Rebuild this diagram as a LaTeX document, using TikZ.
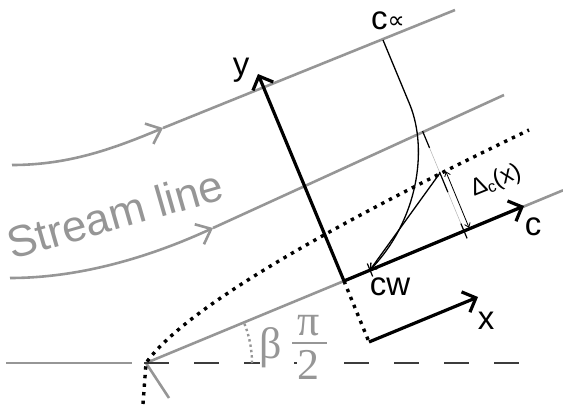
\documentclass[tikz,border=0pt]{standalone}
\usepackage{fontspec}
\setmainfont{Liberation Sans}
\newfontfamily\greekserif{Liberation Serif}
\newfontfamily\symbfont{DejaVu Sans}
\usetikzlibrary{arrows.meta, positioning, calc}
\definecolor{streamgray}{RGB}{150,150,150}
\definecolor{dashgray}{RGB}{60,60,60}

\begin{document}
\begin{tikzpicture}[
    x=1pt, y=-1pt,
    stream/.style={draw=streamgray, line width=2.6pt},
    flowtip/.style={-{Straight Barb[length=13pt,width=22pt]}},
    axis/.style={draw, line width=3.2pt, -{Straight Barb[length=11pt,width=22pt]}},
    bldotted/.style={draw, line width=3.4pt, dash pattern=on 3.4pt off 5.2pt},
    profile/.style={draw, line width=1.3pt},
    axislabel/.style={font=\fontsize{33}{36}\selectfont, inner sep=0pt},
    anglelabel/.style={font=\greekserif\fontsize{44}{48}\selectfont, text=streamgray, fill=white, inner sep=0pt}
]
\useasboundingbox (0,0) rectangle (563,406);

% key points
\coordinate (lead) at (146,363);
\coordinate (corner) at (344,281);
\coordinate (ytip) at (258,74);
\coordinate (ctip) at (524,206);
\coordinate (xorig) at (369,342);
\coordinate (xtip) at (478,297);
\coordinate (cinf) at (383,40);
\coordinate (bend) at (410,105);
\coordinate (cw) at (370,270);
\coordinate (apex) at (440,173);
\coordinate (foot) at (464,231);

% stream lines
\draw[stream, flowtip] (12,165) .. controls (70,165) and (115,148) .. (163,128) coordinate (arrA);
\draw[stream] (arrA) -- (455,10);
\draw[stream, flowtip] (10,278) .. controls (80,278) and (150,257) .. (213,228) coordinate (arrB);
\draw[stream] (arrB) -- (504,95);
\draw[stream] (6,363) -- (132,363);
\draw[stream] (lead) -- (563,190.3);
\draw[stream] (lead) -- (169,398);

% symmetry line and angle
\draw[dashgray, line width=2.4pt, dash pattern=on 25pt off 25pt] (144,363) -- (519,363);
\draw[streamgray, line width=2.4pt, dash pattern=on 2.4pt off 3pt]
    ($(lead)+(106,0)$) arc[start angle=0, end angle=-22.5, radius=106];
\node[anglelabel, anchor=base] (betalab) at (271,359) {β};
\node[anglelabel, anchor=base] (pilab) at (309,336) {π};
\node[anglelabel, anchor=base] (twolab) at (308,380) {2};
\draw[streamgray, line width=1.8pt] (292,343) -- (327,343);

% boundary layer edge
\draw[bldotted] (143,404) -- (lead) .. controls (180,315) and (300,240) .. (529,130);
\draw[bldotted] (corner) -- (xorig);

% axes
\draw[axis] (corner) -- (ytip);
\draw[axis] (corner) -- (ctip);
\draw[axis] (xorig) -- (xtip);

% concentration profile
\draw[profile, -{Straight Barb[length=5pt,width=9pt]}] (cinf) -- (bend) .. controls (428,150) and (418,220) .. (cw);
\draw[profile] (apex) -- (cw);
\draw[line width=1.2pt] (372.7,276.5) -- (367.3,263.5);

% thickness
\draw[black!30, line width=0.5pt] (foot) -- (422.6,131.2);
\draw[line width=1.2pt] (422.6,131.2) -- (429.5,147.8);
\draw[line width=1.2pt] (439.5,171.9) -- (447.9,192.2);
\draw[line width=1.2pt] (467.1,238.4) -- (460.9,223.6);
\draw[line width=0.8pt, {Straight Barb[length=4pt,width=6pt]}-{Straight Barb[length=4pt,width=6pt]}]
    (445.8,171.4) -- (469.1,227.8);

% labels
\node[axislabel] (ylab) at (241,70) {y};
\node[axislabel] (clab) at (533,227) {c};
\node[axislabel] (xlab) at (486,321) {x};
\node[axislabel] (cwlab) at (390,287) {cw};
\node[axislabel, anchor=base west] (cinflab) at (371,30)
    {c\raisebox{1pt}{\symbfont\fontsize{24}{24}\selectfont ∝}};
\node[font=\fontsize{24}{26}\selectfont, rotate=22, inner sep=0pt] (deltalab) at (496,181)
    {Δ\raisebox{-3pt}{\fontsize{16}{16}\selectfont c}(x)};
\node[font=\fontsize{44}{48}\selectfont, text=streamgray, rotate=16, anchor=base west,
    inner sep=0pt] (streamlab) at (12,260) {Stream line};
\end{tikzpicture}
\end{document}
